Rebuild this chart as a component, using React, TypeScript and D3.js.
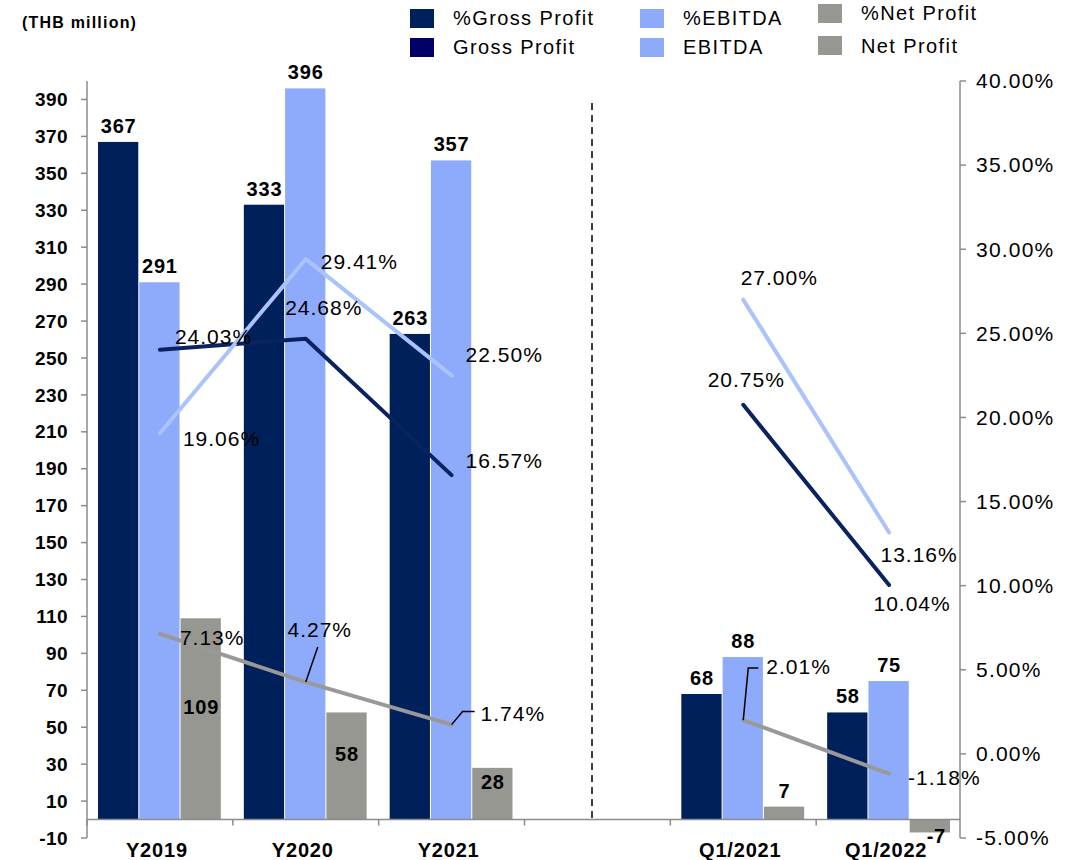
import React from 'react';
import * as d3 from 'd3';

const categories = ['Y2019', 'Y2020', 'Y2021', '', 'Q1/2021', 'Q1/2022'];
const grossProfit = [367, 333, 263, null, 68, 58];
const ebitda = [291, 396, 357, null, 88, 75];
const netProfit = [109, 58, 28, null, 7, -7];
const pctGross = [24.03, 24.68, 16.57, null, 20.75, 10.04];
const pctEbitda = [19.06, 29.41, 22.5, null, 27.0, 13.16];
const pctNet = [7.13, 4.27, 1.74, null, 2.01, -1.18];
const leftTicks = d3.range(-10, 391, 20);
const rightTicks = d3.range(-5, 41, 5);

// label offsets (dx, dy, anchor) relative to each line point
const grossLabelPos = [[15, -13, 'start'], [18, -31, 'middle'], [14, -14, 'start'], null, [3, -25, 'middle'], [23, 19, 'middle']];
const ebitdaLabelPos = [[23, 5, 'start'], [15, 3, 'start'], [14, -21, 'start'], null, [36, -22, 'middle'], [30, 22, 'middle']];
const netLabelPos = [[20, 4, 'start'], [14, -52, 'middle'], [29, -11, 'start'], null, [23, -53, 'start'], [19, 4, 'start']];

const W = 1067;
const H = 860;
const FONT = '"Liberation Sans", Arial, sans-serif';
const NAVY = '#00205c';
const BLUE = '#8eaafa';
const GRAY = '#979791';
const AXIS = '#8c8c8c';

const x = d3.scaleBand<string>().domain(categories).range([87, 962]);
const xs = d3.scaleBand<string>().domain(['g', 'e', 'n']).range([11, x.bandwidth() - 11]);
const yL = d3.scaleLinear().domain([-10, 400]).range([838, 81]);
const yR = d3.scaleLinear().domain([-5, 40]).range([838, 81]);

const cx = (i: number) => (x(categories[i]) as number) + x.bandwidth() / 2;

const segments = (vals: (number | null)[]) => {
  const line = d3.line<number | null>()
    .defined((d) => d !== null)
    .x((_, i) => cx(i))
    .y((d) => yR(d as number));
  return line(vals) || '';
};

export default function App() {
  const bars = [
    { key: 'g', vals: grossProfit, color: NAVY },
    { key: 'e', vals: ebitda, color: BLUE },
    { key: 'n', vals: netProfit, color: GRAY },
  ];
  const lines = [
    { vals: pctGross, color: '#0b2260', pos: grossLabelPos },
    { vals: pctEbitda, color: '#abc3fb', pos: ebitdaLabelPos },
    { vals: pctNet, color: '#999999', pos: netLabelPos },
  ];
  const legend = [
    { label: '%Gross Profit', color: NAVY, x: 410, y: 9, ty: 18 },
    { label: 'Gross Profit', color: '#000066', x: 410, y: 38, ty: 47 },
    { label: '%EBITDA', color: BLUE, x: 640, y: 9, ty: 18 },
    { label: 'EBITDA', color: BLUE, x: 640, y: 38, ty: 47 },
    { label: '%Net Profit', color: GRAY, x: 818, y: 4, ty: 13 },
    { label: 'Net Profit', color: GRAY, x: 818, y: 36, ty: 46 },
  ];
  const y0 = yL(0);

  return (
    <svg width={W} height={H} style={{ position: 'absolute', left: 0, top: 0, background: '#fff' }} fontFamily={FONT}>
      <text x={22} y={28} fontSize={16} fontWeight="bold" letterSpacing={1.2}>(THB million)</text>

      {legend.map((l) => (
        <g key={l.label}>
          <rect x={l.x} y={l.y} width={24} height={19} fill={l.color} />
          <text x={l.x + 43} y={l.ty} dy="0.35em" fontSize={20} letterSpacing={1.4}>{l.label}</text>
        </g>
      ))}

      {/* left axis */}
      <line x1={87} x2={87} y1={yL(-10)} y2={yL(400)} stroke={AXIS} strokeWidth={1.5} />
      {leftTicks.map((t) => (
        <g key={t} transform={`translate(0,${yL(t)})`}>
          <line x1={81} x2={87} stroke={AXIS} strokeWidth={1.5} />
          <text x={68} dy="0.35em" textAnchor="end" fontSize={19} fontWeight="bold" letterSpacing={0.4}>{t}</text>
        </g>
      ))}

      {/* right axis */}
      <line x1={960} x2={960} y1={yR(-5)} y2={yR(40)} stroke={AXIS} strokeWidth={1.5} />
      {rightTicks.map((t) => (
        <g key={t} transform={`translate(0,${yR(t)})`}>
          <line x1={960} x2={966} stroke={AXIS} strokeWidth={1.5} />
          <text x={976} dy="0.35em" fontSize={21} letterSpacing={1.2}>{t.toFixed(2)}%</text>
        </g>
      ))}

      {/* bars */}
      {bars.map((b) =>
        b.vals.map((v, i) => {
          if (v === null) return null;
          const bx = (x(categories[i]) as number) + (xs(b.key) as number);
          const top = Math.min(yL(v), y0);
          return (
            <rect key={b.key + i} x={bx} y={top} width={xs.bandwidth() - 1} height={Math.abs(yL(v) - y0)} fill={b.color} />
          );
        })
      )}

      {/* category axis */}
      <line x1={87} x2={960} y1={y0} y2={y0} stroke={AXIS} strokeWidth={1.5} />
      {categories.map((c, i) => (
        <line key={'ct' + i} x1={x(c) as number} x2={x(c) as number} y1={y0} y2={y0 + 6} stroke={AXIS} strokeWidth={1.5} />
      ))}
      {categories.map((c, i) => (
        <text key={'cl' + i} x={cx(i) - 3} y={857} textAnchor="middle" fontSize={20} fontWeight="bold" letterSpacing={0.8}>{c}</text>
      ))}

      {/* divider */}
      <line x1={592} x2={592} y1={103} y2={y0} stroke="#000" strokeWidth={1.5} strokeDasharray="7,5" />

      {/* bar value labels */}
      {bars.map((b) =>
        b.vals.map((v, i) => {
          if (v === null) return null;
          let bx = (x(categories[i]) as number) + (xs(b.key) as number) + xs.bandwidth() / 2;
          let ly = yL(v) - 16;
          if (b.key === 'n') {
            if (v < 0) { ly = yL(v) + 4; bx += 6; }
            else if (y0 - yL(v) < 30) ly = yL(v) - 16;
            else ly = (yL(v) + y0) / 2 - 12;
          }
          return (
            <text key={'bl' + b.key + i} x={bx} y={ly} dy="0.35em" textAnchor="middle" fontSize={20} fontWeight="bold" letterSpacing={0.8}>{v}</text>
          );
        })
      )}

      {/* percentage lines */}
      {lines.map((l, k) => (
        <path key={'ln' + k} d={segments(l.vals)} fill="none" stroke={l.color} strokeWidth={4} strokeLinecap="round" strokeLinejoin="round" />
      ))}

      {/* leader lines */}
      <polyline points={`${cx(1)},${yR(4.27)} ${cx(1) + 12},${yR(4.27) - 35}`} fill="none" stroke="#000" strokeWidth={1.5} />
      <polyline points={`${cx(2)},${yR(1.74)} ${cx(2) + 11},${yR(1.74) - 13} ${cx(2) + 23},${yR(1.74) - 13}`} fill="none" stroke="#000" strokeWidth={1.5} />
      <polyline points={`${cx(4)},${yR(2.01)} ${cx(4) + 5},${yR(2.01) - 52} ${cx(4) + 15},${yR(2.01) - 52}`} fill="none" stroke="#000" strokeWidth={1.5} />

      {/* percentage labels */}
      {lines.map((l, k) =>
        l.vals.map((v, i) => {
          const p = l.pos[i];
          if (v === null || !p) return null;
          return (
            <text key={'pl' + k + i} x={cx(i) + (p[0] as number)} y={yR(v) + (p[1] as number)} dy="0.35em" textAnchor={p[2] as string} fontSize={21} letterSpacing={1}>
              {v.toFixed(2)}%
            </text>
          );
        })
      )}
    </svg>
  );
}
